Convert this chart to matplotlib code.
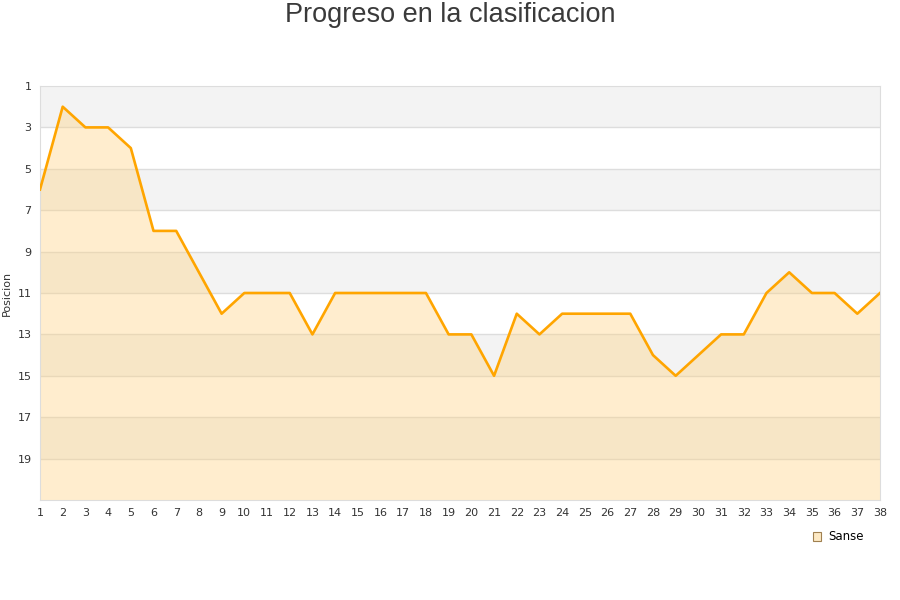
import numpy as np
import matplotlib.pyplot as plt
from matplotlib.patches import Rectangle

jornadas = list(range(1, 39))
posiciones = [6, 2, 3, 3, 4, 8, 8, 10, 12, 11, 11, 11, 13, 11, 11, 11, 11, 11,
              13, 13, 15, 12, 13, 12, 12, 12, 12, 14, 15, 14, 13, 13, 11, 10,
              11, 11, 12, 11]
y_ticks = [1, 3, 5, 7, 9, 11, 13, 15, 17, 19]
equipo = "Sanse"

fig = plt.figure(figsize=(9, 6), dpi=100)
ax = fig.add_axes([40 / 900, 100 / 600, 840 / 900, 414 / 600])

# alternating horizontal bands
for i, lo in enumerate(range(1, 21, 2)):
    if i % 2 == 0:
        ax.axhspan(lo, lo + 2, color='#f3f3f3', zorder=0, lw=0)
for t in y_ticks[1:]:
    ax.axhline(t, color='#dddddd', lw=1, zorder=1)

ax.fill_between(jornadas, posiciones, 21, color='#ffd27f', alpha=0.38, lw=0, zorder=2)
ax.plot(jornadas, posiciones, color='#ffa500', lw=1.9, zorder=3)

ax.set_xlim(1, 38)
ax.set_ylim(21, 1)
ax.set_yticks(y_ticks)
ax.set_xticks(jornadas)
ax.tick_params(length=0, labelsize=8, colors='#333333', pad=6)
for s in ax.spines.values():
    s.set_color('#dddddd')
ax.set_ylabel("Posicion", fontsize=8, color='#333333', labelpad=4)

fig.text(0.5, 1 - 15 / 600, "Progreso en la clasificacion", ha='center', va='center',
         fontsize=19.5, color='#3a3a3a', family='Liberation Sans')

fig.legend(handles=[Rectangle((0, 0), 1, 1, facecolor='#fde9c4', edgecolor='#a08050', lw=0.8)],
           labels=[equipo], loc='center', bbox_to_anchor=(838 / 900, 1 - 537 / 600),
           frameon=False, fontsize=8.5, handlelength=0.7, handleheight=0.7,
           handletextpad=0.6)

fig.savefig("out.png", dpi=100)
